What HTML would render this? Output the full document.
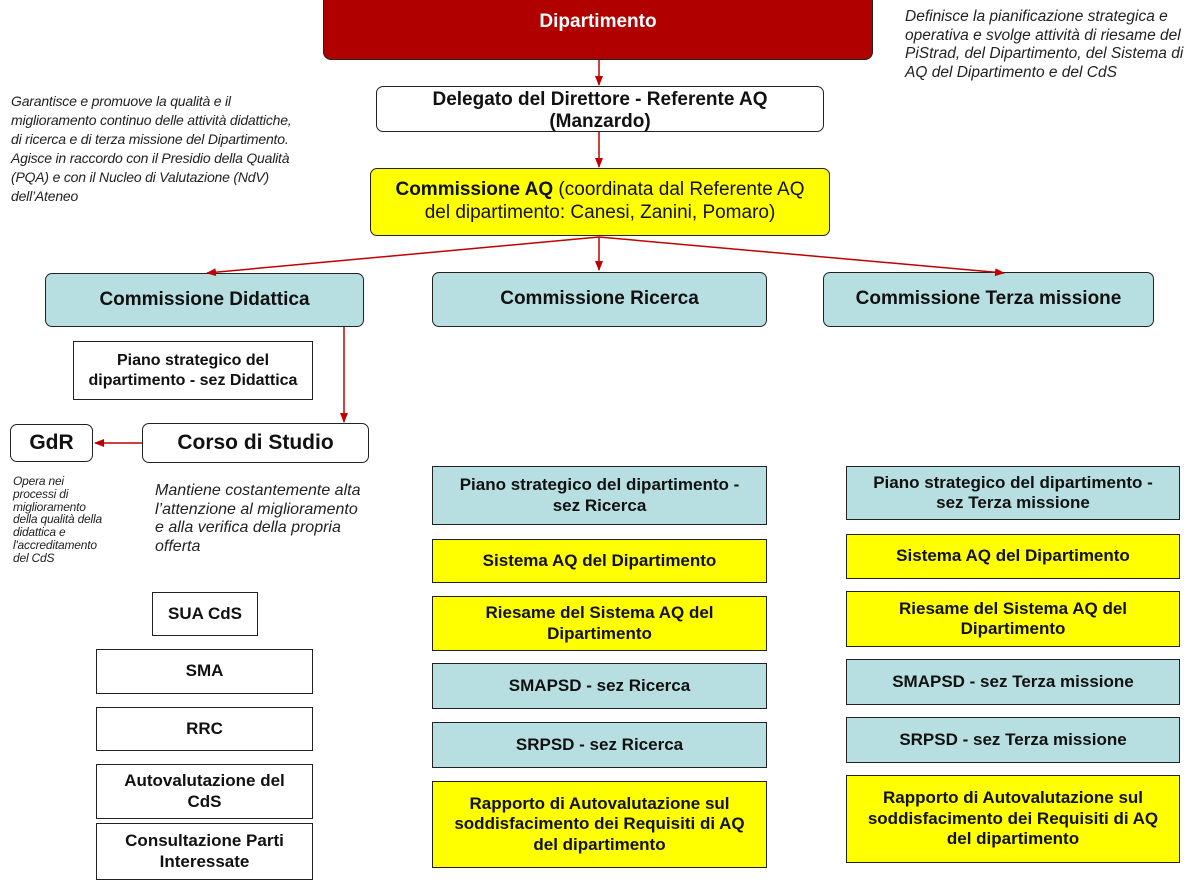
<!DOCTYPE html>
<html><head><meta charset="utf-8"><style>
body{margin:0;width:1200px;height:885px;background:#fff;position:relative;overflow:hidden;font-family:"Liberation Sans",Arial,sans-serif}
.b{position:absolute;box-sizing:border-box;border:1.5px solid #222;display:flex;align-items:center;justify-content:center;text-align:center;font-weight:bold;color:#111;line-height:1.2;white-space:nowrap}
.r{border-radius:7px}
.t{background:#b7dfe1}.y{background:#ffff00}
.i{position:absolute;font-style:italic;color:#222;white-space:nowrap;letter-spacing:-0.2px}
.b.s{font-size:17px}
</style></head><body>
<div class="b" style="left:323px;top:-8px;width:550px;height:68px;background:#b00000;border-radius:8px;color:#fff;font-size:19px;align-items:flex-start;padding-top:18px">Dipartimento</div>
<div class="i" style="left:905px;top:8px;font-size:15.5px;line-height:18.5px;letter-spacing:0">Definisce la pianificazione strategica e<br>operativa e svolge attività di riesame del<br>PiStrad, del Dipartimento, del Sistema di<br>AQ del Dipartimento e del CdS</div>
<div class="b r" style="left:376px;top:86px;width:448px;height:46px;background:#fff;font-size:19px;line-height:1.15;padding-top:3px">Delegato del Direttore - Referente AQ<br>(Manzardo)</div>
<div class="i" style="left:11px;top:92px;font-size:14px;line-height:19px">Garantisce e promuove la qualità e il<br>miglioramento continuo delle attività didattiche,<br>di ricerca e di terza missione del Dipartimento.<br>Agisce in raccordo con il Presidio della Qualità<br>(PQA) e con il Nucleo di Valutazione (NdV)<br>dell’Ateneo</div>
<div class="b r y" style="left:370px;top:168px;width:460px;height:68px;font-size:19px;font-weight:normal"><span><b>Commissione AQ</b> (coordinata dal Referente AQ<br>del dipartimento: Canesi, Zanini, Pomaro)</span></div>
<div class="b r t" style="left:45px;top:273px;width:319px;height:54px;font-size:19px">Commissione Didattica</div>
<div class="b r t" style="left:432px;top:272px;width:335px;height:55px;font-size:19px">Commissione Ricerca</div>
<div class="b r t" style="left:823px;top:272px;width:331px;height:55px;font-size:19px">Commissione Terza missione</div>
<div class="b" style="left:73px;top:341px;width:240px;height:59px;background:#fff;font-size:16px">Piano strategico del<br>dipartimento - sez Didattica</div>
<div class="b r" style="left:10px;top:424px;width:83px;height:38px;background:#fff;font-size:21px">GdR</div>
<div class="b r" style="left:142px;top:423px;width:227px;height:40px;background:#fff;font-size:21px">Corso di Studio</div>
<div class="i" style="left:13px;top:475px;font-size:12px;line-height:12.8px">Opera nei<br>processi di<br>miglioramento<br>della qualità della<br>didattica e<br>l'accreditamento<br>del CdS</div>
<div class="i" style="left:155px;top:482px;font-size:16px;line-height:18.5px;letter-spacing:0">Mantiene costantemente alta<br>l’attenzione al miglioramento<br>e alla verifica della propria<br>offerta</div>
<div class="b s" style="left:152px;top:592px;width:106px;height:44px;background:#fff">SUA CdS</div>
<div class="b s" style="left:96px;top:649px;width:217px;height:45px;background:#fff">SMA</div>
<div class="b s" style="left:96px;top:707px;width:217px;height:44px;background:#fff">RRC</div>
<div class="b s" style="left:96px;top:764px;width:217px;height:55px;background:#fff">Autovalutazione del<br>CdS</div>
<div class="b s" style="left:96px;top:823px;width:217px;height:57px;background:#fff">Consultazione Parti<br>Interessate</div>

<div class="b t s" style="left:432px;top:466px;width:335px;height:59px">Piano strategico del dipartimento -<br>sez Ricerca</div>
<div class="b y s" style="left:432px;top:539px;width:335px;height:44px">Sistema AQ del Dipartimento</div>
<div class="b y s" style="left:432px;top:596px;width:335px;height:55px">Riesame del Sistema AQ del<br>Dipartimento</div>
<div class="b t s" style="left:432px;top:663px;width:335px;height:46px">SMAPSD - sez Ricerca</div>
<div class="b t s" style="left:432px;top:722px;width:335px;height:46px">SRPSD - sez Ricerca</div>
<div class="b y s" style="left:432px;top:781px;width:335px;height:87px">Rapporto di Autovalutazione sul<br>soddisfacimento dei Requisiti di AQ<br>del dipartimento</div>

<div class="b t s" style="left:846px;top:466px;width:334px;height:54px">Piano strategico del dipartimento -<br>sez Terza missione</div>
<div class="b y s" style="left:846px;top:534px;width:334px;height:45px">Sistema AQ del Dipartimento</div>
<div class="b y s" style="left:846px;top:591px;width:334px;height:56px">Riesame del Sistema AQ del<br>Dipartimento</div>
<div class="b t s" style="left:846px;top:659px;width:334px;height:46px">SMAPSD - sez Terza missione</div>
<div class="b t s" style="left:846px;top:717px;width:334px;height:46px">SRPSD - sez Terza missione</div>
<div class="b y s" style="left:846px;top:775px;width:334px;height:88px">Rapporto di Autovalutazione sul<br>soddisfacimento dei Requisiti di AQ<br>del dipartimento</div>

<svg style="position:absolute;left:0;top:0" width="1200" height="885">
<defs><marker id="a" markerWidth="10" markerHeight="8" refX="9" refY="4" orient="auto" markerUnits="userSpaceOnUse"><path d="M0,0L10,4L0,8z" fill="#c00000"/></marker></defs>
<g stroke="#c00000" stroke-width="1.5" fill="none" marker-end="url(#a)">
<line x1="599" y1="60" x2="599" y2="85"/>
<line x1="599" y1="132" x2="599" y2="167"/>
<line x1="599" y1="237" x2="599" y2="270"/>
<line x1="599" y1="237" x2="207" y2="273"/>
<line x1="599" y1="237" x2="1004" y2="273"/>
<line x1="344" y1="327" x2="344" y2="422"/>
<line x1="142" y1="443" x2="95" y2="443"/>
</g></svg>
</body></html>
